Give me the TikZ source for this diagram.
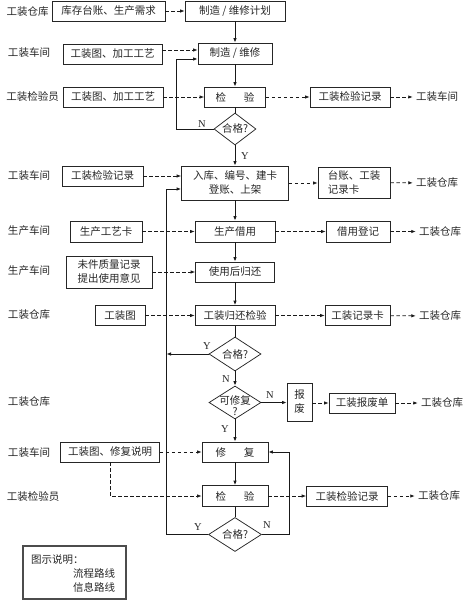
\documentclass[tikz,border=0pt]{standalone}
\usepackage{fontspec}
\setmainfont{Noto Sans CJK SC}
\newfontfamily\latinserif{Liberation Serif}
\usetikzlibrary{shapes.geometric,arrows.meta}
\tikzset{
  every node/.style={font=\fontsize{10.5}{14}\selectfont, text=black!85, inner sep=0pt},
  box/.style={draw=black!85, line width=0.75pt, minimum width=#1, minimum height=20, align=center},
  dia/.style={draw=black!85, line width=0.75pt, shape=diamond, minimum width=52, minimum height=34},
  yn/.style={font=\latinserif\fontsize{10.5}{12}\selectfont, text=black!85},
  flowline/.style={draw=black!90, line width=0.85pt},
  flow/.style={flowline, -{Latex[length=4.5pt,width=3.5pt]}},
  info/.style={draw=black!90, line width=0.8pt, dash pattern=on 3.5pt off 2.5pt, -{Latex[length=4.5pt,width=3.5pt]}},
  infoout/.style={info, shorten >=3pt},
}
\begin{document}
\begin{tikzpicture}[x=1pt,y=-1pt]
\useasboundingbox (0,0) rectangle (474,601);

% left labels
\node (L1) at (27.5,12) {工装仓库};
\node (L2) at (29,53) {工装车间};
\node (L3) at (32.5,97) {工装检验员};
\node (L4) at (29,176) {工装车间};
\node (L5) at (29,231) {生产车间};
\node (L6) at (29,271) {生产车间};
\node (L7) at (29,315) {工装仓库};
\node (L8) at (29,402) {工装仓库};
\node (L9) at (29,453) {工装车间};
\node (L10) at (33,496) {工装检验员};

% right labels
\node (r1) at (437,97) {工装车间};
\node (r2) at (437,183) {工装仓库};
\node (r3) at (440,231.5) {工装仓库};
\node (r4) at (440,316) {工装仓库};
\node (r5) at (442,403) {工装仓库};
\node (r6) at (439,496) {工装仓库};

% boxes
\node[box=113] (b1) at (108.5,11) {库存台账、生产需求};
\node[box=100] (b2) at (235,11) {制造 / 维修计划};
\node[box=99] (b3) at (112.5,54) {工装图、加工工艺};
\node[box=74, minimum height=21] (b4) at (235,53.5) {制造 / 维修};
\node[box=100] (b5) at (113,97) {工装图、加工工艺};
\node[box=61] (b6) at (235,97) {检\hspace{1.7em}验};
\node[box=80] (b7) at (350,97) {工装检验记录};
\node[dia, minimum width=42, minimum height=32] (d1) at (235,129) {};
\node at (d1.center) {合格?};
\node[box=81] (b8) at (102.5,176) {工装检验记录};
\node[box=107, minimum height=34] (b9) at (235,183) {入库、编号、建卡\\登账、上架};
\node[box=72, minimum height=31, align=left] (b10) at (354,182.5) {台账、工装\\记录卡};
\node[box=72, minimum height=21] (b11) at (106,231.5) {生产工艺卡};
\node[box=80, minimum height=21] (b12) at (235,231.5) {生产借用};
\node[box=64, minimum height=21] (b13) at (358,231.5) {借用登记};
\node[box=86, minimum height=32] (b14) at (109,272) {未件质量记录\\提出使用意见};
\node[box=79] (b15) at (235,272) {使用后归还};
\node[box=50] (b16) at (120,315.5) {工装图};
\node[box=80] (b17) at (235,315.5) {工装归还检验};
\node[box=65] (b18) at (357.5,315.5) {工装记录卡};
\node[dia] (d2) at (235,354) {};
\node at (d2.center) {合格?};
\node[dia, minimum height=33] (d3) at (235,402.5) {};
\node[align=center, font=\fontsize{10.5}{10.5}\selectfont] at ([yshift=-3pt]d3.center) {可修复\\?};
\node[box=25, minimum height=38] (b19) at (299.5,402) {报\\废};
\node[box=66] (b20) at (362,403) {工装报废单};
\node[box=99] (b21) at (110,452) {工装图、修复说明};
\node[box=66] (b22) at (235,452) {修\hspace{1.7em}复};
\node[box=66, minimum height=21] (b23) at (235,496) {检\hspace{1.7em}验};
\node[box=81] (b24) at (347,496) {工装检验记录};
\node[dia, minimum width=53] (d4) at (235,534.5) {};
\node at (d4.center) {合格?};

% Y / N labels
\node[yn] (n1) at (202,124) {N};
\node[yn] (y1) at (245,156) {Y};
\node[yn] (y2) at (207,346) {Y};
\node[yn] (n2) at (226,379) {N};
\node[yn] (n3) at (270,395) {N};
\node[yn] (y3) at (225,429) {Y};
\node[yn] (y4) at (198,527) {Y};
\node[yn] (n4) at (267,525) {N};

% loop coordinates
\coordinate (l1) at (176,59);
\coordinate (l2top) at (166.5,189);
\coordinate (l2bot) at (166.5,534.5);
\coordinate (l3) at (289,534.5);
\coordinate (a3) at (162,50);

% flow lines
\draw[flow] (b2) -- (b4);
\draw[flow] (b4) -- (b6);
\draw[flowline] (b6) -- (d1);
\draw[flow] (d1) -- (b9);
\draw[flow] (d1.west) -| (l1) -- (b4.west |- l1);
\draw[flow] (b9) -- (b12);
\draw[flow] (b12) -- (b15);
\draw[flow] (b15) -- (b17);
\draw[flowline] (b17) -- (d2);
\draw[flow] (d2.west) -- (d2.west -| l2bot);
\draw[flow] (d2) -- (d3);
\draw[flow] (d3) -- (b22);
\draw[flow] (d3.east) -- (b19.west |- d3.east);
\draw[flow] (b22) -- (b23);
\draw[flowline] (b23) -- (d4);
\draw[flow] (d4.west) -- (l2bot) -- (l2top) -- (b9.west |- l2top);
\draw[flow] (d4.east) -- (l3) |- (b22.east);

% information lines
\draw[info] (b1) -- (b2);
\draw[info] (b3.east |- a3) -- (b4.west |- a3);
\draw[info] (b5) -- (b6);
\draw[info] (b6) -- (b7);
\draw[infoout] (b7) -- (r1);
\draw[info] (b8.east) -- (b9.west |- b8.east);
\draw[info] (b9.east) -- (b10.west |- b9.east);
\draw[infoout] (b10) -- (r2);
\draw[info] (b11) -- (b12);
\draw[info] (b12) -- (b13);
\draw[infoout] (b13) -- (r3);
\draw[info] (b14) -- (b15);
\draw[info] (b16) -- (b17);
\draw[info] (b17) -- (b18);
\draw[infoout] (b18) -- (r4);
\draw[info] (b19.east |- b20.west) -- (b20.west);
\draw[infoout] (b20) -- (r5);
\draw[info] (b21) -- (b22);
\draw[info] (b21.south) |- (b23.west);
\draw[info] (b23) -- (b24);
\draw[infoout] (b24) -- (r6);

% legend
\node[draw=black!70, line width=2pt, minimum width=103, minimum height=53] (leg) at (74.5,572.5) {};
\node[anchor=west] (lg1) at (31,560) {图示说明：};
\node[anchor=west] (lg2) at (73,573.5) {流程路线};
\node[anchor=west] (lg3) at (73,587.5) {信息路线};
\end{tikzpicture}
\end{document}
